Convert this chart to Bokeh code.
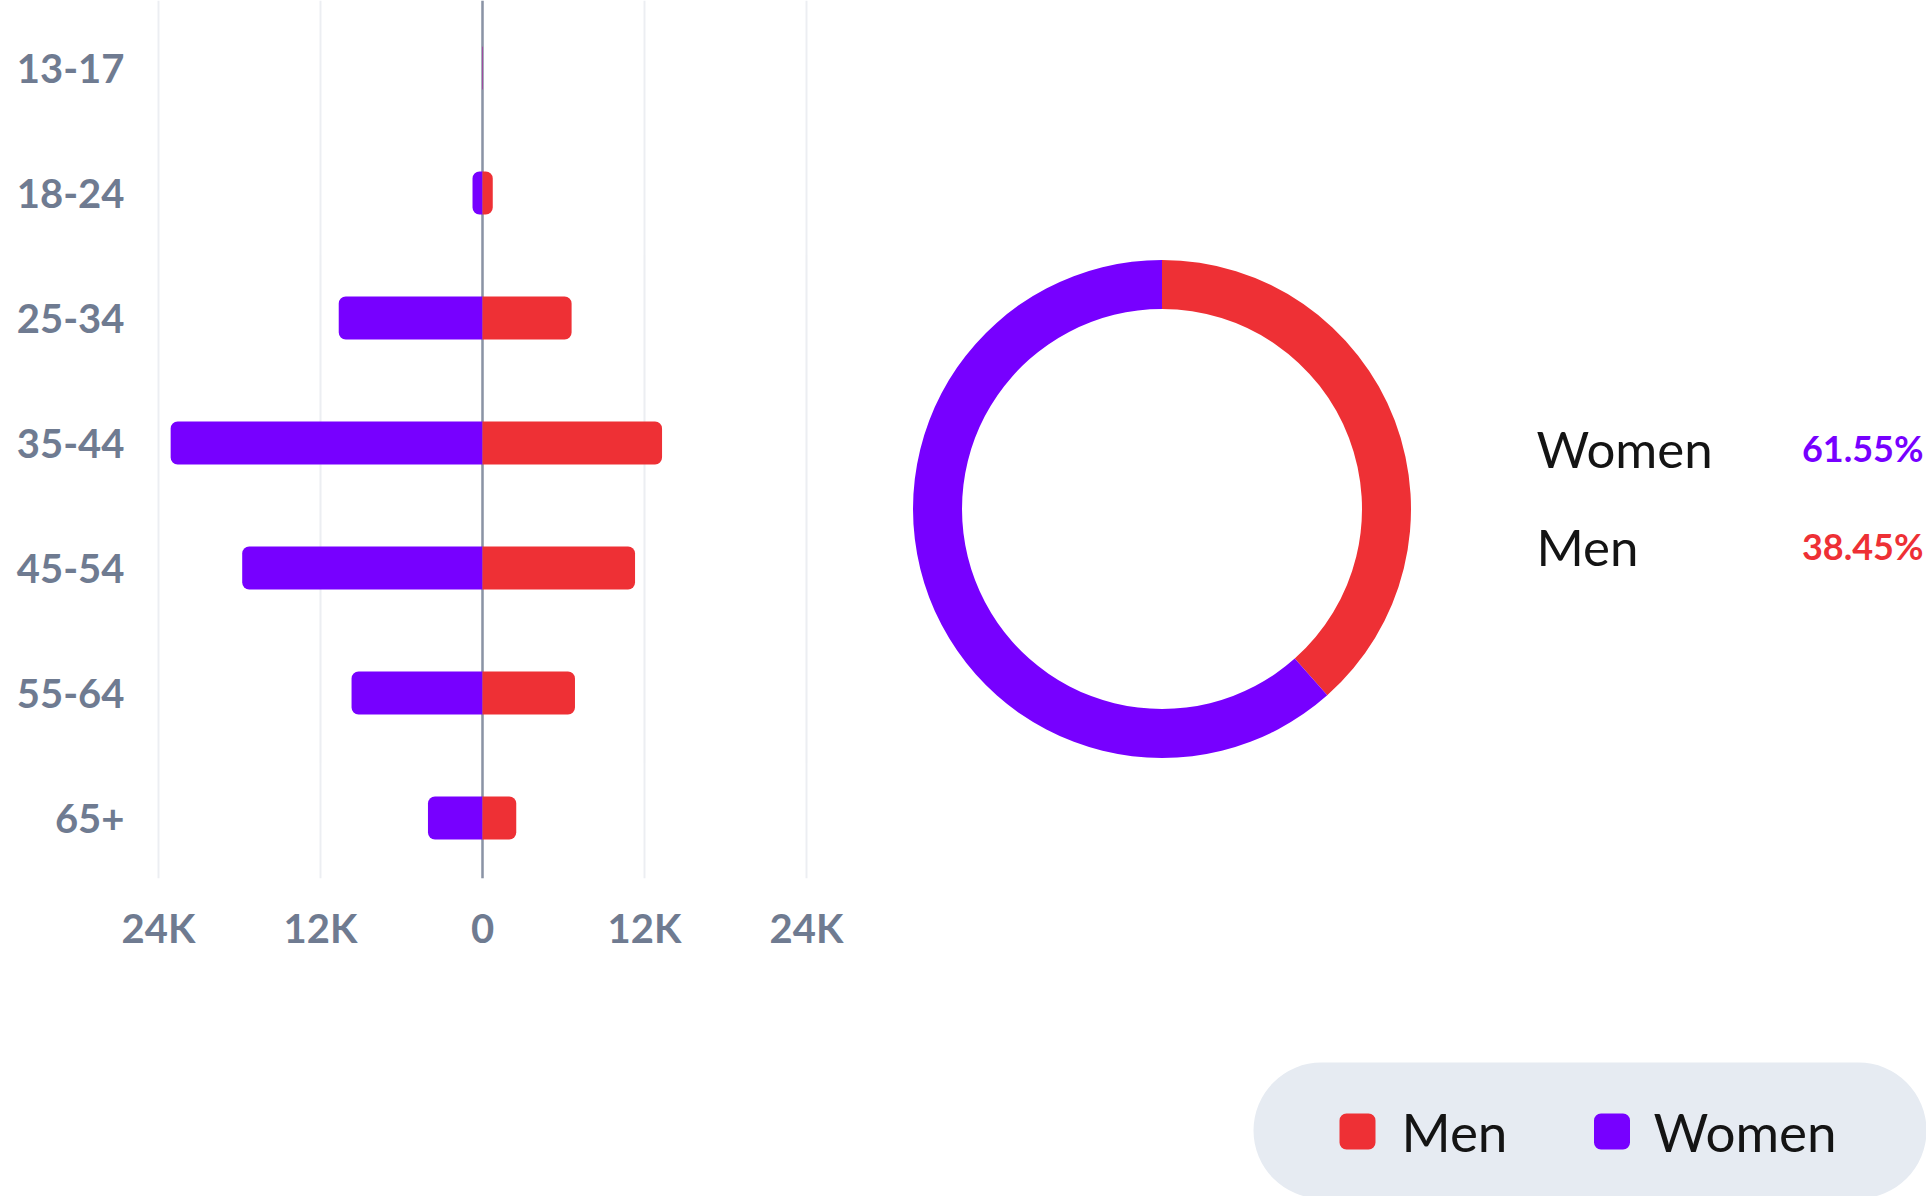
import math
from bokeh.plotting import figure
from bokeh.layouts import column
from bokeh.models import Range1d, FixedTicker, Span, ColumnDataSource
from bokeh.core.properties import value
from bokeh.embed import file_html
from bokeh.resources import INLINE

# ---------------- data ----------------
age_groups = ["13-17", "18-24", "25-34", "35-44", "45-54", "55-64", "65+"]
women = [30, 740, 10650, 23100, 17800, 9700, 4040]
men = [20, 760, 6600, 13300, 11300, 6850, 2500]
x_ticks = [-24000, -12000, 0, 12000, 24000]
x_tick_labels = ["24K", "12K", "0", "12K", "24K"]
genders = ["Men", "Women"]
gender_share = [38.45, 61.55]

# ---------------- style / layout ----------------
RED = "#ee3035"
PURPLE = "#7700ff"
GRAY_TXT = "#6f7b91"
FONT = "Lato"
gender_colors = [RED, PURPLE]

W, H = 1926, 1196
TOP_H = 960                           # height of the main figure
FRAME_L, FRAME_B = 130, 878          # frame: x 130..W, y 0..878
ZERO_X = 482                          # pixel of value 0
PX_PER_UNIT = 324 / 24000             # 24K spans 324 px
BAND = 125                            # px per age group
FIRST_CENTER = 67.5

x0 = -(ZERO_X - FRAME_L) / PX_PER_UNIT
x1 = x0 + (W - FRAME_L) / PX_PER_UNIT
y_top = -FIRST_CENTER / BAND
y_bot = y_top + FRAME_B / BAND

p = figure(width=W, height=TOP_H, output_backend="svg", toolbar_location=None,
           x_range=Range1d(x0, x1), y_range=Range1d(y_bot, y_top),
           min_border_left=FRAME_L, min_border_right=0, min_border_top=0,
           min_border_bottom=TOP_H - FRAME_B)
p.outline_line_color = None
p.background_fill_color = None
p.border_fill_color = None
# pixel-like ranges for the right-hand panel (x = page px, y = -page px)
p.extra_x_ranges = {"px": Range1d(FRAME_L, W)}
p.extra_y_ranges = {"py": Range1d(-FRAME_B, 0)}

# ---------------- butterfly bars ----------------
idx = list(range(len(age_groups)))
src = ColumnDataSource(dict(y=idx, wl=[-w for w in women], mr=men))

p.xgrid.grid_line_color = "#eceef2"
p.xgrid.grid_line_width = 2
p.ygrid.visible = False

p.add_layout(Span(location=0, dimension="height", line_color="#8a93a5",
                  line_width=2.5, level="underlay"))

p.hbar(y="y", left="wl", right=0, height=0.344, source=src,
       fill_color=PURPLE, line_color=None, border_radius=(7, 0, 0, 7))
p.hbar(y="y", left=0, right="mr", height=0.344, source=src,
       fill_color=RED, line_color=None, border_radius=(0, 7, 7, 0))

p.xaxis.ticker = FixedTicker(ticks=x_ticks)
p.xaxis.major_label_overrides = {t: l for t, l in zip(x_ticks, x_tick_labels)}
p.yaxis.ticker = FixedTicker(ticks=idx)
p.yaxis.major_label_overrides = {i: g for i, g in zip(idx, age_groups)}
for ax in (p.xaxis, p.yaxis):
    ax.axis_line_color = None
    ax.major_tick_line_color = None
    ax.minor_tick_line_color = None
    ax.major_tick_out = 0
    ax.major_tick_in = 0
    ax.major_label_text_font = FONT
    ax.major_label_text_font_style = "bold"
    ax.major_label_text_font_size = "40px"
    ax.major_label_text_color = GRAY_TXT
p.xaxis.major_label_standoff = 25
p.yaxis.major_label_standoff = 6

# ---------------- donut ----------------
starts, ends = [], []
cum = 0.0
for s in gender_share:
    a0 = math.pi / 2 - 2 * math.pi * cum / 100.0
    cum += s
    a1 = math.pi / 2 - 2 * math.pi * cum / 100.0
    starts.append(a1)
    ends.append(a0)

p.annular_wedge(x=1161.5, y=-508.5, inner_radius=200, outer_radius=249,
                start_angle=starts, end_angle=ends, direction="anticlock",
                fill_color=gender_colors, line_color=None,
                x_range_name="px", y_range_name="py")

# breakdown text (Men lower row, Women upper row)
row_y = [-545.5, -447.5]
p.text(x=[1536] * len(genders), y=row_y, text=genders,
       text_font=value(FONT), text_font_size="51px", text_color="#141414",
       text_align="left", text_baseline="middle",
       x_range_name="px", y_range_name="py")
p.text(x=[1923] * len(genders), y=row_y,
       text=[f"{s:.2f}%" for s in gender_share],
       text_font=value(FONT), text_font_size="36px", text_font_style="bold",
       text_color=gender_colors, text_align="right", text_baseline="middle",
       x_range_name="px", y_range_name="py")

# ---------------- legend strip (second figure below) ----------------
pc = figure(width=W, height=H - TOP_H, output_backend="svg",
            toolbar_location=None,
            x_range=Range1d(FRAME_L, W), y_range=Range1d(-H, -TOP_H),
            min_border_left=FRAME_L, min_border_right=0, min_border_top=0,
            min_border_bottom=0, x_axis_location=None, y_axis_location=None)
pc.grid.visible = False
pc.outline_line_color = None
pc.background_fill_color = None
pc.border_fill_color = None

pc.quad(left=1253, right=1926, top=-1062, bottom=-1198,
        fill_color="#e6ebf2", line_color=None, border_radius=68)
sq_x = [1357, 1611.5]
pc.quad(left=[x - 18 for x in sq_x], right=[x + 18 for x in sq_x],
        top=[-1113] * 2, bottom=[-1149] * 2, fill_color=gender_colors,
        line_color=None, border_radius=7)
pc.text(x=[1401, 1653], y=[-1131] * 2, text=genders,
        text_font=value(FONT), text_font_size="53px", text_color="#141414",
        text_align="left", text_baseline="middle")

layout = column(p, pc, spacing=0)
open("out.html", "w").write(file_html(layout, INLINE))
